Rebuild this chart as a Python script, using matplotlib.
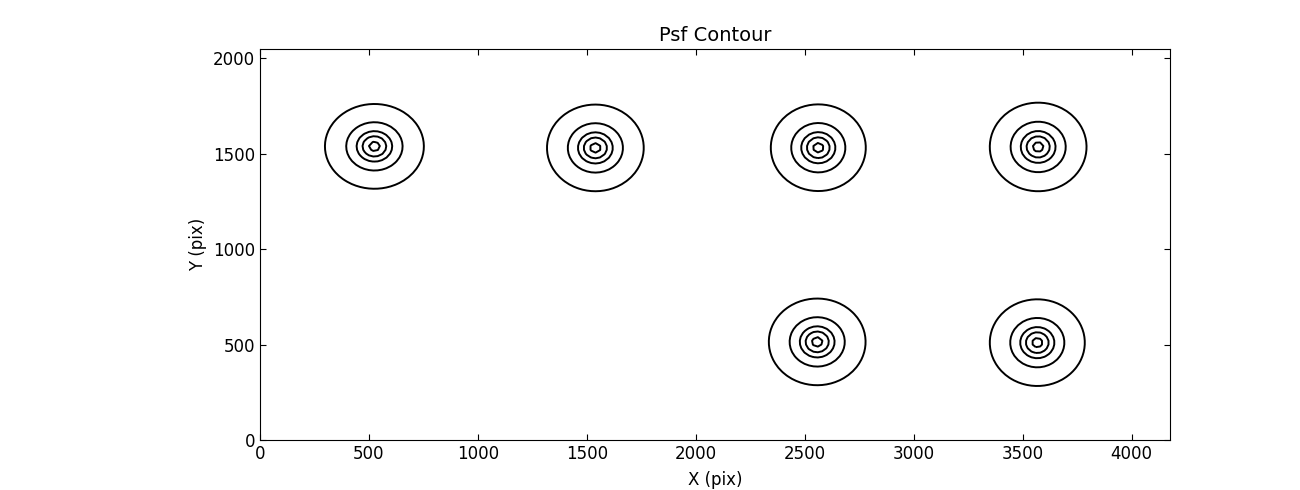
import numpy as np
import matplotlib
matplotlib.use('Agg')
import matplotlib.pyplot as plt

# psf centres (pix)
psf_x = [525, 1539, 2562, 3571, 2557, 3567]
psf_y = [1538, 1530, 1531, 1535, 514, 510]
# x / y extent of the outermost contour (pix)
outer_rx = [227, 222, 218, 222, 222, 218]
outer_ry = [222, 227, 227, 232, 227, 227]
# contour radii as fraction of the outer one
ring_frac = [0.11, 0.24, 0.36, 0.57, 1.0]

plt.rcParams['font.size'] = 12
plt.rcParams['xtick.direction'] = 'in'
plt.rcParams['ytick.direction'] = 'in'
plt.rcParams['xtick.top'] = True
plt.rcParams['ytick.right'] = True
plt.rcParams['xtick.major.size'] = 4
plt.rcParams['ytick.major.size'] = 4

nx, ny = 4176, 2048
step = 20.0
gx = np.arange(0, nx + step, step)
gy = np.arange(0, ny + step, step)
X, Y = np.meshgrid(gx, gy)

field = np.full(X.shape, 10.0)
for cx, cy, rx, ry in zip(psf_x, psf_y, outer_rx, outer_ry):
    r = np.sqrt(((X - cx)/rx)**2 + ((Y - cy)/ry)**2)
    field = np.minimum(field, r)

fig = plt.figure(figsize=(13, 4.9), dpi=100)
ax = fig.add_axes([0.2, 0.102, 0.7, 0.798])
ax.contour(X, Y, field, levels=ring_frac, colors='k', linewidths=1.4)
ax.set_xlim(0, nx)
ax.set_ylim(0, ny)
ax.set_xticks(np.arange(0, 4001, 500))
ax.set_yticks(np.arange(0, 2001, 500))
ax.set_xlabel('X (pix)', labelpad=6)
ax.set_ylabel('Y (pix)')
ax.set_title('Psf Contour', fontsize=14)
fig.savefig('out.png')
